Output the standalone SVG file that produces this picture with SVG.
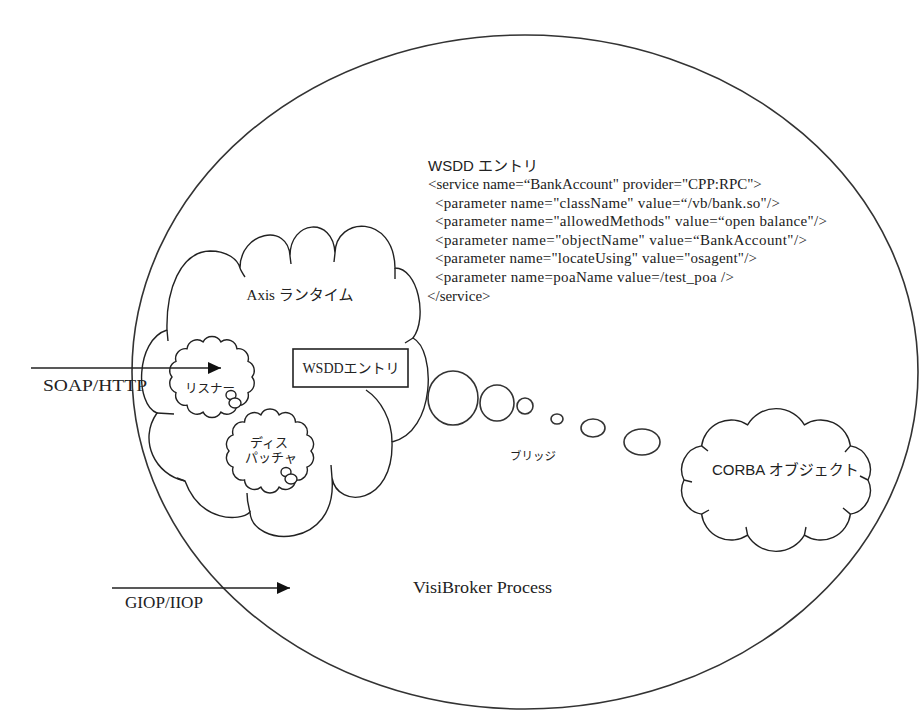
<svg xmlns="http://www.w3.org/2000/svg" width="920" height="725" viewBox="0 0 920 725">
<defs>
<style>
.ln{fill:none;stroke:#222;stroke-width:1.4}
.cl{fill:#fff;stroke:#222;stroke-width:1.4}
.bb{fill:#fff;stroke:#333;stroke-width:1.6}
.tx{font-family:"Liberation Serif","Noto Sans CJK JP",serif;fill:#222}
.js{font-family:"Liberation Sans","Noto Sans CJK JP",sans-serif;fill:#222}
.code{font-family:"Liberation Serif","Noto Sans CJK JP",serif;font-size:15px;fill:#222}
</style>
<marker id="arrow" markerWidth="14" markerHeight="12" refX="13" refY="6" orient="auto" markerUnits="userSpaceOnUse"><path d="M0,0 L13,6 L0,12 Z" fill="#111"/></marker>
</defs>
<rect width="920" height="725" fill="#fff"/>
<g id="visibroker-process">
<ellipse cx="525" cy="372" rx="393" ry="337" fill="#fff" stroke="#333" stroke-width="1.6"/>
<text class="tx" x="413" y="593" font-size="16" textLength="139" lengthAdjust="spacingAndGlyphs">VisiBroker Process</text>
</g>
<g id="wsdd-entry-text">
<text class="js" x="428" y="171" font-size="15">WSDD エントリ</text>
<text class="code" x="428" y="189">&lt;service name=“BankAccount" provider="CPP:RPC"&gt;</text>
<text class="code" x="435" y="208" textLength="345" lengthAdjust="spacing">&lt;parameter name="className" value=“/vb/bank.so"/&gt;</text>
<text class="code" x="435" y="226" textLength="392" lengthAdjust="spacing">&lt;parameter name="allowedMethods" value=“open balance"/&gt;</text>
<text class="code" x="435" y="245" textLength="372" lengthAdjust="spacing">&lt;parameter name="objectName" value=“BankAccount"/&gt;</text>
<text class="code" x="435" y="263" textLength="322" lengthAdjust="spacing">&lt;parameter name="locateUsing" value="osagent"/&gt;</text>
<text class="code" x="435" y="282" textLength="299" lengthAdjust="spacing">&lt;parameter name=poaName value=/test_poa /&gt;</text>
<text class="code" x="427" y="301">&lt;/service&gt;</text>
</g>
<g id="axis-runtime">
<path class="cl" d="M167,330 C166,290 180,252 210,251 C228,251 238,260 240,268 C240,232 288,222 290,256 C290,220 333,216 335,253 C336,216 394,214 395,268 C418,268 428,318 413,338 C436,350 436,432 392,442 C394,505 338,510 332,478 C338,550 252,548 250,512 C240,522 200,522 185,481 C155,475 138,440 157,413 C135,405 135,340 167,330 Z"/>
<path class="ln" d="M240,268 C241,271 243,274 245,277 M290,256 L291,264 M335,253 L334,262 M395,268 L395,279 M413,338 L405,343 M392,442 C392,420 381,400 366,390 M332,478 L331,465 M250,512 C248,505 247,500 247,493 M185,481 L177,478 M157,413 L174,414 M167,330 L168,341"/>
<text class="tx" x="300" y="300" font-size="15" text-anchor="middle">Axis ランタイム</text>
</g>
<g id="listener">
<path class="cl" d="M252,377 A10,10 0 0 1 248,392.6 A10,10 0 0 1 236.9,405.2 A10,10 0 0 1 220.9,412.1 A10,10 0 0 1 203.1,412.1 A10,10 0 0 1 187.1,405.2 A10,10 0 0 1 176,392.6 A10,10 0 0 1 172,377 A10,10 0 0 1 176,361.4 A10,10 0 0 1 187.1,348.8 A10,10 0 0 1 203.1,341.9 A10,10 0 0 1 220.9,341.9 A10,10 0 0 1 236.9,348.8 A10,10 0 0 1 248,361.4 A10,10 0 0 1 252,377 Z"/>
<ellipse class="cl" cx="231" cy="395" rx="5" ry="4.5"/>
<ellipse class="cl" cx="235" cy="403" rx="6" ry="5"/>
<text class="js" x="210" y="393" font-size="12.5" text-anchor="middle">リスナー</text>
</g>
<g id="dispatcher">
<path class="cl" d="M311,451 A10,10 0 0 1 306.9,467.1 A10,10 0 0 1 295.5,479.9 A10,10 0 0 1 279.1,487.1 A10,10 0 0 1 260.9,487.1 A10,10 0 0 1 244.5,479.9 A10,10 0 0 1 233.1,467.1 A10,10 0 0 1 229,451 A10,10 0 0 1 233.1,434.9 A10,10 0 0 1 244.5,422.1 A10,10 0 0 1 260.9,414.9 A10,10 0 0 1 279.1,414.9 A10,10 0 0 1 295.5,422.1 A10,10 0 0 1 306.9,434.9 A10,10 0 0 1 311,451 Z"/>
<ellipse class="cl" cx="286" cy="472" rx="5" ry="4.5"/>
<ellipse class="cl" cx="291" cy="479" rx="6" ry="5"/>
<text class="js" x="269" y="447" font-size="13" text-anchor="middle">ディス</text>
<text class="js" x="271" y="462" font-size="13" text-anchor="middle">パッチャ</text>
</g>
<g id="wsdd-box">
<rect x="293" y="349" width="115" height="38" fill="#fff" stroke="#222" stroke-width="1.6"/>
<text class="tx" x="351" y="373" font-size="14" text-anchor="middle">WSDDエントリ</text>
</g>
<g id="bridge">
<ellipse class="bb" cx="453" cy="398" rx="25" ry="27"/>
<ellipse class="bb" cx="497" cy="403" rx="17" ry="18"/>
<ellipse class="bb" cx="525" cy="406" rx="8" ry="8"/>
<ellipse class="bb" cx="557" cy="419" rx="6" ry="5"/>
<ellipse class="bb" cx="593" cy="428" rx="12" ry="9"/>
<ellipse class="bb" cx="642" cy="442" rx="18" ry="13"/>
<text class="js" x="533" y="460" font-size="11.5" text-anchor="middle">ブリッジ</text>
</g>
<g id="corba-object">
<path class="cl" d="M868,480 A24,24 0 0 1 850.4,514.1 A30,30 0 0 1 804.4,535.2 A33,33 0 0 1 747.6,535.2 A30,30 0 0 1 701.6,514.1 A24,24 0 0 1 684,480 A24,24 0 0 1 701.6,445.9 A30,30 0 0 1 747.6,424.8 A33,33 0 0 1 804.4,424.8 A30,30 0 0 1 850.4,445.9 A24,24 0 0 1 868,480 Z"/>
<path class="ln" d="M850.4,514.1 L843,508 M804.4,535.2 L806,527 M747.6,535.2 L746,527 M701.6,514.1 L709,510 M684,480 L692,482 M701.6,445.9 L708,451 M850.4,445.9 L845,452 M868,480 L860,476"/>
<text class="js" x="712" y="475" font-size="15">CORBA オブジェクト</text>
</g>
<g id="connectors">
<line class="ln" x1="31" y1="368" x2="221" y2="368" stroke="#111" marker-end="url(#arrow)"/>
<text class="tx" x="43" y="391" font-size="16" textLength="104" lengthAdjust="spacingAndGlyphs">SOAP/HTTP</text>
<line class="ln" x1="112" y1="588" x2="290" y2="588" stroke="#111" marker-end="url(#arrow)"/>
<text class="tx" x="125" y="608" font-size="16" textLength="78" lengthAdjust="spacingAndGlyphs">GIOP/IIOP</text>
</g>
</svg>
